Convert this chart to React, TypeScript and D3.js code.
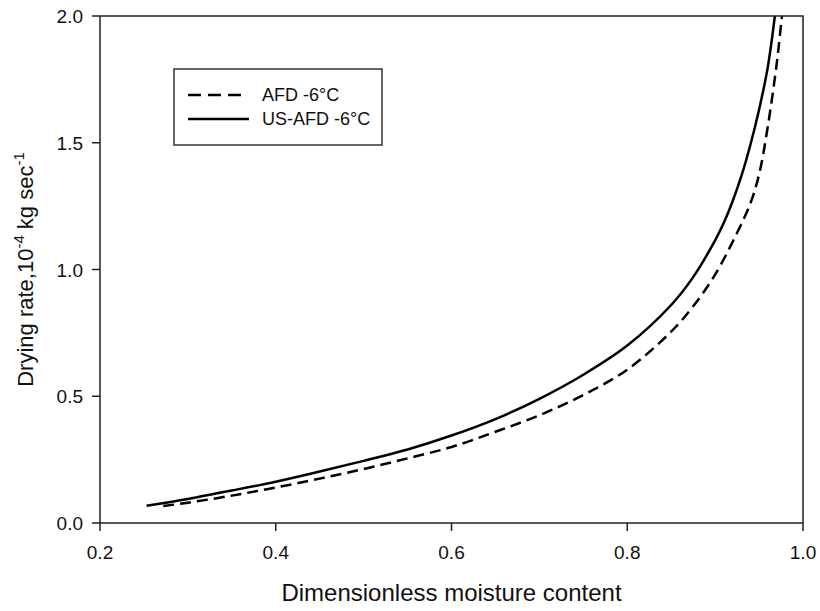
import React from "react";
import * as d3 from "d3";

const xTicks = [0.2, 0.4, 0.6, 0.8, 1.0];
const yTicks = [0.0, 0.5, 1.0, 1.5, 2.0];

const afdX = [0.272, 0.30, 0.35, 0.40, 0.45, 0.50, 0.55, 0.60, 0.65, 0.70, 0.75, 0.80, 0.85, 0.875, 0.90, 0.925, 0.94, 0.95, 0.96, 0.97, 0.976, 0.98];
const afdY = [0.067, 0.08, 0.108, 0.14, 0.175, 0.213, 0.255, 0.30, 0.36, 0.425, 0.505, 0.605, 0.755, 0.855, 0.98, 1.145, 1.26, 1.375, 1.565, 1.81, 2.0, 2.14];

const usX = [0.253, 0.30, 0.35, 0.40, 0.45, 0.50, 0.55, 0.60, 0.65, 0.70, 0.75, 0.80, 0.85, 0.875, 0.90, 0.91, 0.92, 0.93, 0.94, 0.95, 0.96, 0.968, 0.972];
const usY = [0.068, 0.095, 0.128, 0.163, 0.203, 0.245, 0.29, 0.345, 0.41, 0.49, 0.585, 0.70, 0.86, 0.97, 1.115, 1.185, 1.27, 1.37, 1.49, 1.63, 1.80, 2.0, 2.12];

const legendLabels = ["AFD -6°C", "US-AFD -6°C"];

const FONT = "Liberation Sans, Arial, sans-serif";

export default function App() {
  const left = 100, right = 803, top = 16, bottom = 523;
  const x = d3.scaleLinear().domain([0.2, 1.0]).range([left, right]);
  const y = d3.scaleLinear().domain([0, 2]).range([bottom, top]);
  const line = d3
    .line<[number, number]>()
    .x((d) => x(d[0]))
    .y((d) => y(d[1]))
    .curve(d3.curveCatmullRom.alpha(0.5));
  const afd = afdX.map((v, i) => [v, afdY[i]] as [number, number]);
  const us = usX.map((v, i) => [v, usY[i]] as [number, number]);

  return (
    <svg width={820} height={611} style={{ position: "absolute", left: 0, top: 0, background: "#fff" }} fontFamily={FONT}>
      <defs>
        <clipPath id="plot">
          <rect x={left} y={top} width={right - left} height={bottom - top} />
        </clipPath>
      </defs>
      <rect x={0} y={0} width={820} height={611} fill="#fff" />
      <g clipPath="url(#plot)">
        <path d={line(afd) || ""} fill="none" stroke="#000" strokeWidth={2.5} strokeDasharray="11,6" />
        <path d={line(us) || ""} fill="none" stroke="#000" strokeWidth={2.5} />
      </g>
      <rect x={left} y={top} width={right - left} height={bottom - top} fill="none" stroke="#222" strokeWidth={1.5} />
      {xTicks.map((t) => (
        <g key={"x" + t}>
          <line x1={x(t)} x2={x(t)} y1={bottom} y2={bottom + 8} stroke="#222" strokeWidth={1.5} />
          <text x={x(t)} y={559} textAnchor="middle" fontSize={19} fill="#111">
            {t.toFixed(1)}
          </text>
        </g>
      ))}
      {yTicks.map((t) => (
        <g key={"y" + t}>
          <line x1={left - 8} x2={left} y1={y(t)} y2={y(t)} stroke="#222" strokeWidth={1.5} />
          <text x={83} y={y(t) + 7} textAnchor="end" fontSize={19} fill="#111">
            {t.toFixed(1)}
          </text>
        </g>
      ))}
      <text x={(left + right) / 2} y={601} textAnchor="middle" fontSize={24} fill="#111">
        Dimensionless moisture content
      </text>
      <text transform={`translate(33, ${(top + bottom) / 2}) rotate(-90)`} textAnchor="middle" fontSize={22} fill="#111">
        Drying rate,10
        <tspan fontSize={15} dy={-9}>-4</tspan>
        <tspan dy={9}> kg sec</tspan>
        <tspan fontSize={15} dy={-9}>-1</tspan>
      </text>
      <rect x={174} y={69} width={208} height={76} fill="#fff" stroke="#333" strokeWidth={1.5} />
      <line x1={188} x2={248} y1={95} y2={95} stroke="#000" strokeWidth={2.5} strokeDasharray="13,7" />
      <line x1={188} x2={249} y1={119} y2={119} stroke="#000" strokeWidth={2.5} />
      <text x={262} y={101} fontSize={18} fill="#111">{legendLabels[0]}</text>
      <text x={262} y={125} fontSize={18} fill="#111">{legendLabels[1]}</text>
    </svg>
  );
}
